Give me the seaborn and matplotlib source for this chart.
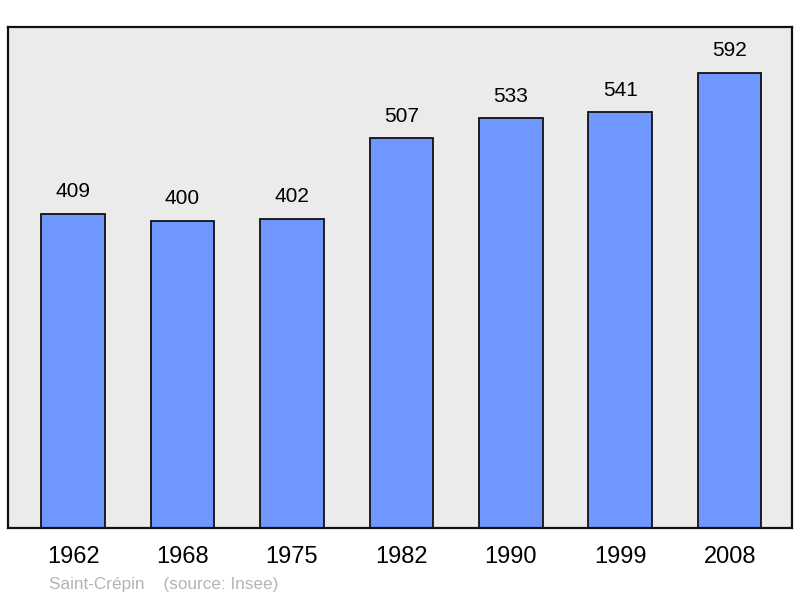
import matplotlib
matplotlib.use('Agg')
import matplotlib.pyplot as plt
import seaborn as sns
import pandas as pd

years = ['1962', '1968', '1975', '1982', '1990', '1999', '2008']
population = [409, 400, 402, 507, 533, 541, 592]
commune = 'Saint-Crépin'
source = '(source: Insee)'

df = pd.DataFrame({'Year': years, 'Population': population})

sns.set_style('white')
plt.rcParams['font.family'] = ['Liberation Sans', 'DejaVu Sans']

fig = plt.figure(figsize=(8, 5.98), dpi=100)
ax = fig.add_axes([0.01, 0.117, 0.98, 0.838])
ax.set_facecolor('#ebebeb')

sns.barplot(data=df, x='Year', y='Population', color='#7096ff', saturation=1,
            width=0.58, edgecolor='#111111', linewidth=1.3, ax=ax)

for i, v in enumerate(population):
    ax.annotate(str(v), (i, v), xytext=(0, 16), textcoords='offset points',
                ha='center', va='center', fontsize=15, color='black')

ax.set_xlim(-0.595, 6.57)
ax.set_ylim(0, 652)
ax.set_yticks([])
ax.set_xlabel('')
ax.set_ylabel('')
ax.tick_params(axis='x', length=0, pad=13, labelsize=17, labelcolor='black')
for s in ax.spines.values():
    s.set_visible(True)
    s.set_color('#111111')
    s.set_linewidth(1.6)

fig.text(49 / 800, 1 - 584 / 598, commune + '    ' + source, fontsize=12.3,
         color='#b4b4b4', ha='left', va='center')

fig.savefig('out.png', dpi=100)
